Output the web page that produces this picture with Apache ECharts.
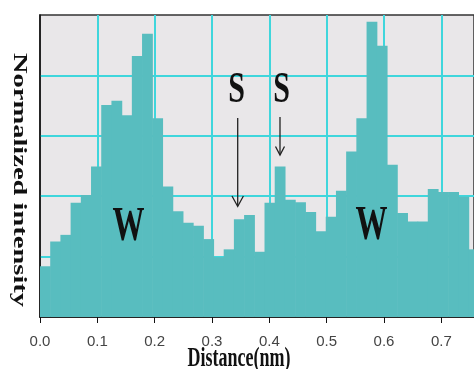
<!DOCTYPE html>
<html>
<head>
<meta charset="utf-8">
<script src="https://cdn.jsdelivr.net/npm/echarts@6/dist/echarts.min.js"></script>
<style>
html,body{margin:0;padding:0;background:#fff;}
#chart{width:474px;height:369px;}
</style>
</head>
<body>
<div id="chart"></div>
<script>
// Histogram bin width (nm) and normalized intensity per bin
const binWidth = 0.0178;
const intensity = [
  0.84, 1.25, 1.36, 1.89, 2.02, 2.49, 3.51, 3.58, 3.34, 4.32,
  4.69, 3.29, 2.16, 1.75, 1.56, 1.51, 1.29, 0.99, 1.12, 1.62,
  1.69, 1.08, 1.89, 2.49, 1.94, 1.90, 1.74, 1.42, 1.66, 2.09,
  2.74, 3.29, 4.89, 4.49, 2.52, 1.72, 1.58, 1.58, 2.12, 2.07,
  2.07, 1.99, 1.12
];
const xTicks = [0.0, 0.1, 0.2, 0.3, 0.4, 0.5, 0.6, 0.7];
const xTitle = 'Distance(nm)';
const yTitle = 'Normalized intensity';
const peakLabels = ['W', 'S', 'S', 'W'];

const bins = intensity.map((v, i) => [i * binWidth, (i + 1) * binWidth, v]);

const chart = echarts.init(document.getElementById('chart'));
const serif = '"Liberation Serif", "Times New Roman", serif';

chart.setOption({
  animation: false,
  backgroundColor: '#ffffff',
  grid: {
    left: 40, right: 0, top: 15, bottom: 52,
    show: true,
    backgroundColor: '#e9e7e9',
    borderColor: '#333333',
    borderWidth: 1.5
  },
  xAxis: {
    type: 'value',
    min: 0,
    max: 0.757,
    interval: 0.1,
    axisLine: { show: true, onZero: false, lineStyle: { color: '#111', width: 1.5 } },
    axisTick: { show: true, length: 6, lineStyle: { color: '#111' } },
    axisLabel: {
      margin: 17,
      fontSize: 15,
      color: '#444',
      fontFamily: '"Liberation Sans", Arial, sans-serif',
      formatter: v => (xTicks.some(t => Math.abs(t - v) < 1e-6) ? v.toFixed(1) : ''),
      showMaxLabel: false
    },
    splitLine: { show: true, showMinLine: false, showMaxLine: false, lineStyle: { color: '#3fd6dc', width: 2 } }
  },
  yAxis: {
    type: 'value',
    min: 0,
    max: 5,
    interval: 1,
    axisLine: { show: true, lineStyle: { color: '#111', width: 1.5 } },
    axisTick: { show: false },
    axisLabel: { show: false },
    splitLine: { show: true, showMinLine: false, showMaxLine: false, lineStyle: { color: '#3fd6dc', width: 2 } }
  },
  series: [{
    type: 'custom',
    data: bins,
    clip: true,
    renderItem: function (params, api) {
      const x0 = api.value(0), x1 = api.value(1), v = api.value(2);
      const p0 = api.coord([x0, v]);
      const p1 = api.coord([x1, 0]);
      return {
        type: 'rect',
        shape: { x: p0[0], y: p0[1], width: p1[0] - p0[0] + 0.6, height: p1[1] - p0[1] },
        style: { fill: '#58bdbf' }
      };
    },
    encode: { x: [0, 1], y: 2 }
  }],
  graphic: [
    { type: 'text', x: 19, y: 180, rotation: -Math.PI / 2, scaleX: 1.5,
      style: { text: yTitle, font: 'bold 19px ' + serif, fill: '#111', textAlign: 'center', textVerticalAlign: 'middle' } },
    { type: 'text', x: 239, y: 359, scaleY: 1.5,
      style: { text: xTitle, font: 'bold 18px ' + serif, fill: '#111', textAlign: 'center', textVerticalAlign: 'middle' } },
    { type: 'text', x: 128.5, y: 228, scaleY: 1.5, z: 100,
      style: { text: peakLabels[0], font: 'bold 32px ' + serif, fill: '#111', textAlign: 'center', textVerticalAlign: 'middle' } },
    { type: 'text', x: 236.5, y: 90, scaleY: 1.5, z: 100,
      style: { text: peakLabels[1], font: 'bold 30px ' + serif, fill: '#111', textAlign: 'center', textVerticalAlign: 'middle' } },
    { type: 'text', x: 281.5, y: 90, scaleY: 1.5, z: 100,
      style: { text: peakLabels[2], font: 'bold 30px ' + serif, fill: '#111', textAlign: 'center', textVerticalAlign: 'middle' } },
    { type: 'text', x: 371.5, y: 227, scaleY: 1.5, z: 100,
      style: { text: peakLabels[3], font: 'bold 32px ' + serif, fill: '#111', textAlign: 'center', textVerticalAlign: 'middle' } },
    { type: 'line', z: 100, shape: { x1: 237.7, y1: 118, x2: 237.7, y2: 206 }, style: { stroke: '#222', lineWidth: 1.3 } },
    { type: 'polyline', z: 100, shape: { points: [[232, 196], [237.7, 206.5], [243.4, 196]] }, style: { stroke: '#222', lineWidth: 1.3, fill: null } },
    { type: 'line', z: 100, shape: { x1: 280, y1: 117, x2: 280, y2: 154.5 }, style: { stroke: '#222', lineWidth: 1.3 } },
    { type: 'polyline', z: 100, shape: { points: [[275.5, 146.5], [280, 155], [284.5, 146.5]] }, style: { stroke: '#222', lineWidth: 1.3, fill: null } }
  ]
});
</script>
</body>
</html>
